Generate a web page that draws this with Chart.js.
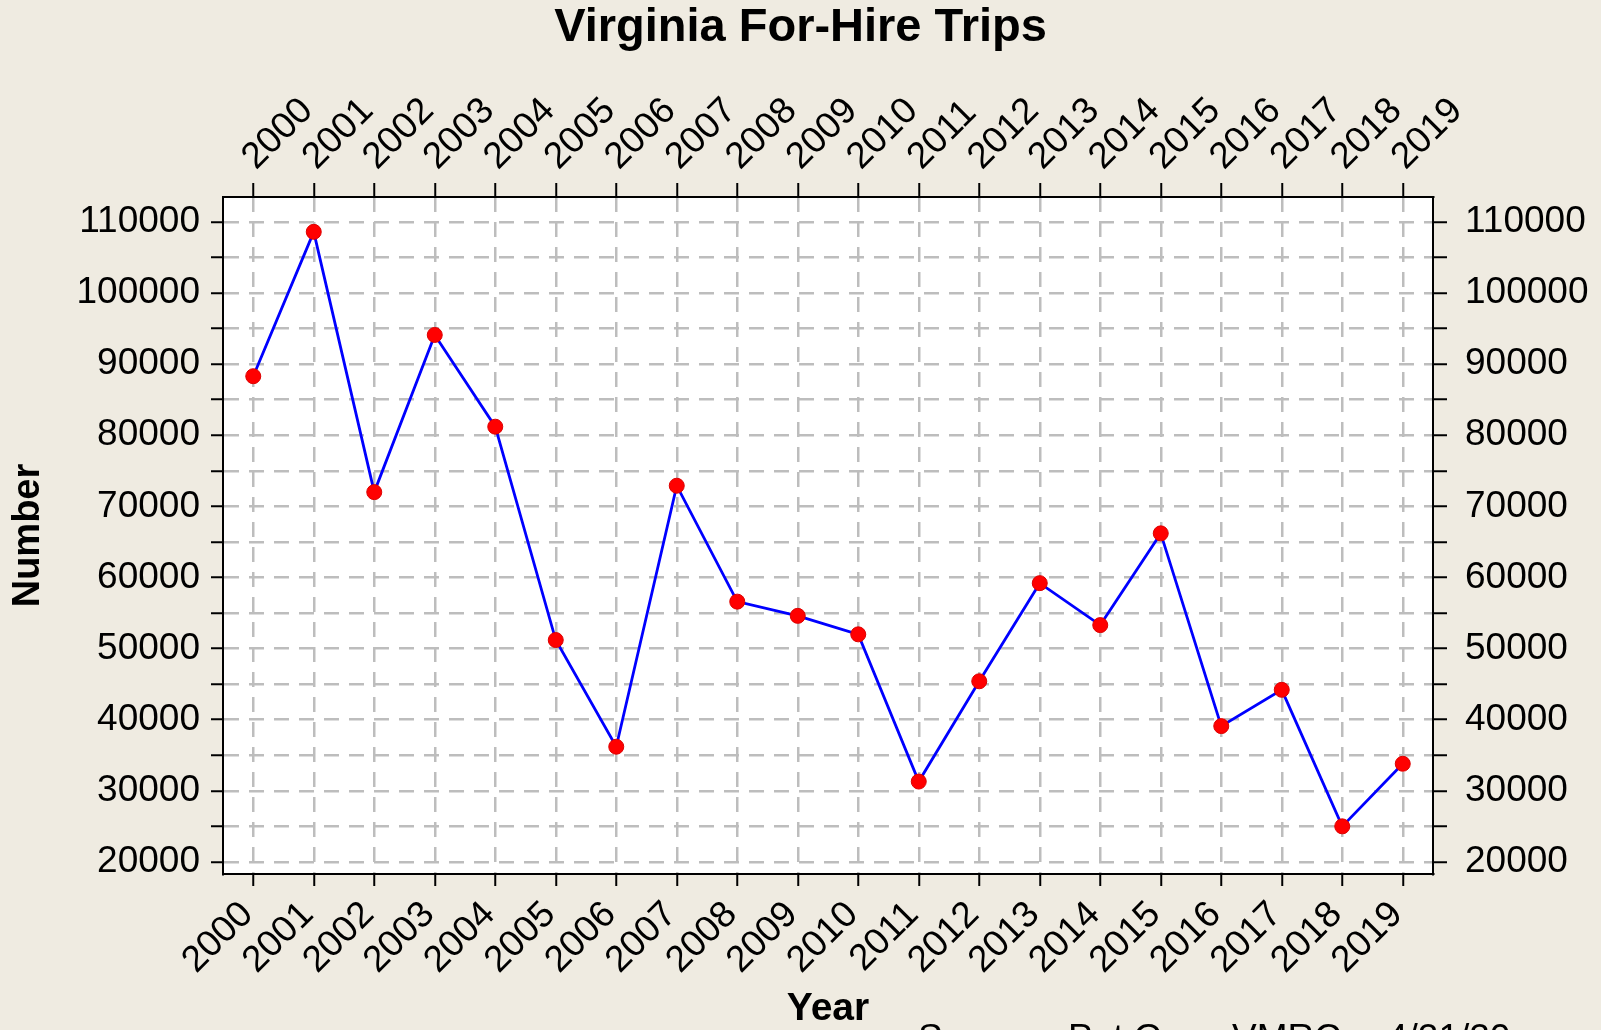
<!DOCTYPE html>
<html>
<head>
<meta charset="utf-8">
<script src="https://cdn.jsdelivr.net/npm/chart.js@4.4.1/dist/chart.umd.min.js"></script>
<style>
  html, body { margin: 0; padding: 0; background: #efebe1; }
  #wrap { width: 1601px; height: 1030px; position: relative; }
</style>
</head>
<body>
<div id="wrap"><canvas id="c" width="1601" height="1030"></canvas></div>
<script>
// ---- data ----
const years = ['2000','2001','2002','2003','2004','2005','2006','2007','2008','2009',
               '2010','2011','2012','2013','2014','2015','2016','2017','2018','2019'];
const trips = [88300, 108600, 72000, 94100, 81200, 51200, 36200, 72900, 56600, 54600,
               52000, 31300, 45400, 59200, 53300, 66200, 39100, 44200, 25000, 33800];
const yTickValues = [20000, 25000, 30000, 35000, 40000, 45000, 50000, 55000, 60000, 65000,
                     70000, 75000, 80000, 85000, 90000, 95000, 100000, 105000, 110000];
const yLabelStep = 10000;
const chartTitle = 'Virginia For-Hire Trips';
const xTitle = 'Year';
const yTitle = 'Number';
const sourceParts = ['Source:', 'Pat Geer,', 'VMRC,', '4/21/20'];

const TICK_FONT = "'Liberation Sans', Arial, sans-serif";
const BOLD_FONT = "'Liberation Sans', Arial, sans-serif";
const TICK_SIZE = 37;

const PLOT = { left: 223, right: 1433, top: 197, bottom: 874 };
const W = 1601, H = 1030;
const TITLE_SIZE = 47, TITLE_LH = 1.2;

const bgPlugin = {
  id: 'plotBg',
  beforeDraw(chart) {
    const { ctx, chartArea: a } = chart;
    ctx.save();
    ctx.fillStyle = '#ffffff';
    ctx.fillRect(a.left, a.top, a.right - a.left, a.bottom - a.top);
    ctx.restore();
    // nudge rotated category labels
    const shifts = { x: [-6, 3], x2: [27, 0] };
    Object.keys(shifts).forEach(id => {
      const s = chart.scales[id];
      if (!s) return;
      const items = s.getLabelItems(a);
      items.forEach(it => {
        if (it._shifted) return;
        it._shifted = true;
        it.options.translation[0] += shifts[id][0];
        it.options.translation[1] += shifts[id][1];
      });
    });
  },
  afterDraw(chart) {
    const ctx = chart.ctx;
    ctx.save();
    ctx.font = "37px " + TICK_FONT;
    ctx.fillStyle = '#000';
    ctx.textBaseline = 'alphabetic';
    ctx.textAlign = 'left';
    const xs = [918, 1068, 1232, 1387];
    sourceParts.forEach((t, i) => ctx.fillText(t, xs[i], 1050));
    ctx.restore();
  }
};

const gridCommon = {
  color: '#bdbdbd',
  lineWidth: 2.5,
  tickColor: '#000',
  tickWidth: 2,
  tickBorderDash: [],
  offset: false
};
const borderCommon = { display: true, color: '#000', width: 2, dash: [15, 10] };

const yTicksCommon = {
  autoSkip: false,
  color: '#000',
  font: { family: TICK_FONT, size: TICK_SIZE },
  callback: (v) => (v % yLabelStep === 0 ? String(v) : '')
};
function setYTicks(scale) {
  scale.ticks = yTickValues.map(v => ({ value: v }));
}

new Chart(document.getElementById('c'), {
  type: 'line',
  data: {
    labels: years,
    datasets: [{
      data: trips,
      borderColor: '#0000ff',
      borderWidth: 2.8,
      pointRadius: 7.5,
      pointHoverRadius: 7.5,
      pointBackgroundColor: '#ff0000',
      pointBorderColor: '#dd0000',
      pointBorderWidth: 1,
      tension: 0,
      xAxisID: 'x',
      yAxisID: 'y'
    }]
  },
  options: {
    responsive: false,
    animation: false,
    devicePixelRatio: 1,
    layout: { padding: 0 },
    plugins: {
      legend: { display: false },
      tooltip: { enabled: false },
      title: {
        display: true,
        text: chartTitle,
        color: '#000',
        font: { family: BOLD_FONT, size: TITLE_SIZE, weight: 'bold', lineHeight: TITLE_LH },
        padding: { top: 0, bottom: 0 }
      }
    },
    scales: {
      x: {
        type: 'category',
        position: 'bottom',
        offset: true,
        grid: Object.assign({}, gridCommon, { drawOnChartArea: true, tickLength: 12 }),
        border: borderCommon,
        ticks: {
          autoSkip: false, maxRotation: 45, minRotation: 45, padding: 4,
          color: '#000', font: { family: TICK_FONT, size: TICK_SIZE }
        },
        title: {
          display: true, text: xTitle, color: '#000',
          font: { family: BOLD_FONT, size: 39, weight: 'bold', lineHeight: 1.0 },
          padding: { top: 0, bottom: 1 }
        },
        afterFit(s) { s.height = H - PLOT.bottom; }
      },
      x2: {
        type: 'category',
        labels: years,
        position: 'top',
        offset: true,
        grid: Object.assign({}, gridCommon, { drawOnChartArea: false, tickLength: 14 }),
        border: borderCommon,
        ticks: {
          autoSkip: false, maxRotation: 45, minRotation: 45, padding: 4,
          color: '#000', font: { family: TICK_FONT, size: TICK_SIZE }
        },
        afterFit(s) { s.height = PLOT.top - TITLE_SIZE * TITLE_LH; }
      },
      y: {
        type: 'linear',
        position: 'left',
        min: 18300,
        max: 113500,
        afterBuildTicks: setYTicks,
        grid: Object.assign({}, gridCommon, { drawOnChartArea: true, tickLength: 12 }),
        border: borderCommon,
        ticks: Object.assign({}, yTicksCommon, { padding: 11 }),
        title: {
          display: true, text: yTitle, color: '#000',
          font: { family: BOLD_FONT, size: 38, weight: 'bold', lineHeight: 1.2 },
          padding: { top: 6, bottom: 0 }
        },
        afterFit(s) { s.width = PLOT.left; }
      },
      y2: {
        type: 'linear',
        position: 'right',
        min: 18300,
        max: 113500,
        afterBuildTicks: setYTicks,
        grid: Object.assign({}, gridCommon, { drawOnChartArea: false, tickLength: 14 }),
        border: borderCommon,
        ticks: Object.assign({}, yTicksCommon, { padding: 18 }),
        afterFit(s) { s.width = W - PLOT.right; }
      }
    }
  },
  plugins: [bgPlugin]
});
</script>
</body>
</html>
